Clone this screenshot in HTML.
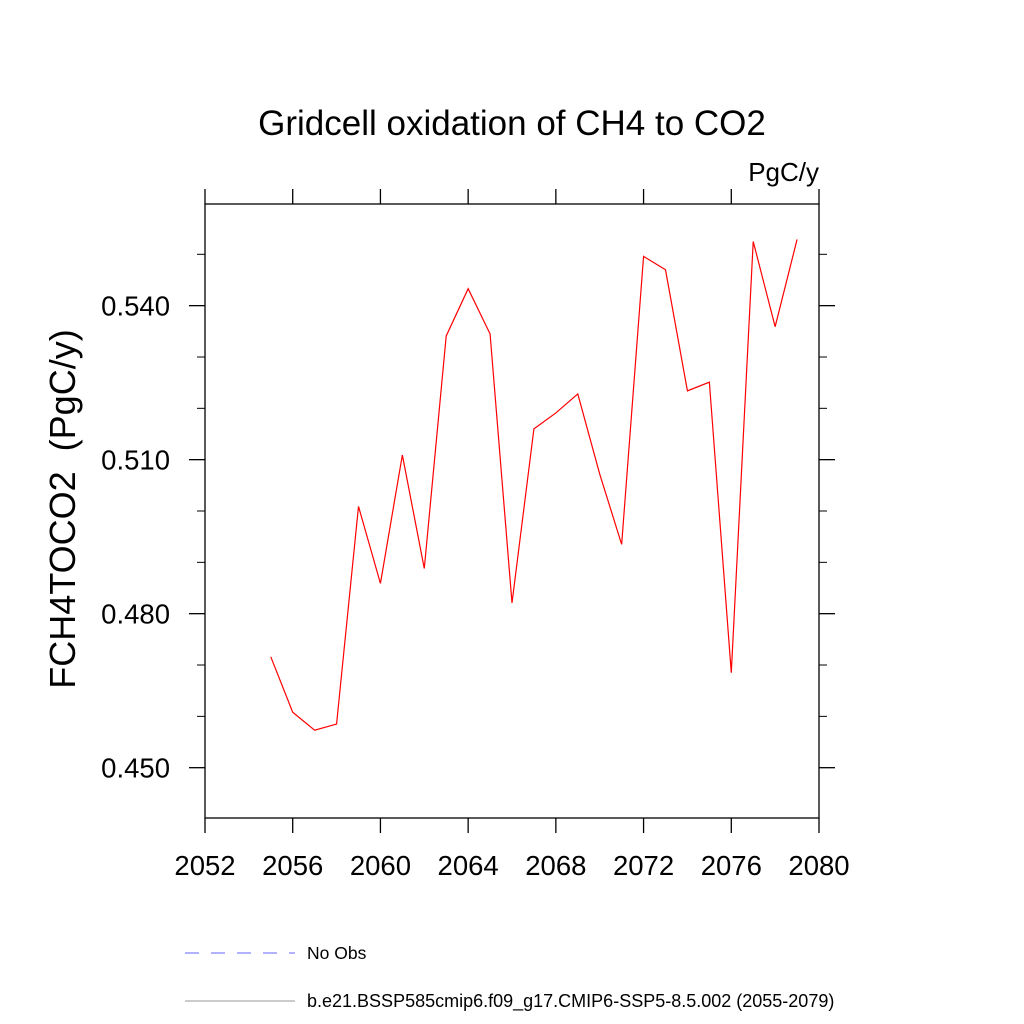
<!DOCTYPE html>
<html><head><meta charset="utf-8"><style>body{margin:0;background:#fff}svg{display:block;font-family:"Liberation Sans",sans-serif}</style></head>
<body>
<svg id="chart" width="1024" height="1024" xmlns="http://www.w3.org/2000/svg">
<text x="512" y="135" font-size="35" text-anchor="middle">Gridcell oxidation of CH4 to CO2</text>
<text x="819" y="181" font-size="26" text-anchor="end">PgC/y</text>
<text transform="translate(75,509) rotate(-90)" font-size="36" text-anchor="middle">FCH4TOCO2&#160;&#160;(PgC/y)</text>
<g id="axes"></g>
<polyline id="series" fill="none" stroke="#ff0000" stroke-width="1.2"/>
<line x1="185" y1="953" x2="295" y2="953" stroke="#6666ff" stroke-dasharray="14,12"/>
<text x="307" y="959" font-size="17.5">No Obs</text>
<line x1="185" y1="1001" x2="295" y2="1001" stroke="#999"/>
<text x="307" y="1007" font-size="18">b.e21.BSSP585cmip6.f09_g17.CMIP6-SSP5-8.5.002 (2055-2079)</text>
</svg>
<script>
const years=[2055,2056,2057,2058,2059,2060,2061,2062,2063,2064,2065,2066,2067,2068,2069,2070,2071,2072,2073,2074,2075,2076,2077,2078,2079];
const values=[0.4716,0.4608,0.4573,0.4585,0.5009,0.4859,0.5109,0.4888,0.5341,0.5433,0.5345,0.4821,0.5160,0.5191,0.5228,0.5072,0.4935,0.5496,0.5470,0.5234,0.5251,0.4685,0.5525,0.5359,0.5529];
const xTicks=[2052,2056,2060,2064,2068,2072,2076,2080];
const yTicks=[0.450,0.480,0.510,0.540];
const yTickLabels=["0.450","0.480","0.510","0.540"];
const L=205,R=819,T=204,B=818,X0=2052,X1=2080,Y0=0.4402,Y1=0.5598;
const sx=v=>L+(v-X0)/(X1-X0)*(R-L), sy=v=>B-(v-Y0)/(Y1-Y0)*(B-T);
const ns="http://www.w3.org/2000/svg", g=document.getElementById('axes');
function ln(x1,y1,x2,y2,name,w){const e=document.createElementNS(ns,'line');
e.setAttribute('x1',x1);e.setAttribute('y1',y1);e.setAttribute('x2',x2);e.setAttribute('y2',y2);
e.setAttribute('stroke','#000');e.setAttribute('stroke-width',w||1.3);


g.appendChild(e);}
function tx(x,y,s,anchor,name){const e=document.createElementNS(ns,'text');
e.setAttribute('x',x);e.setAttribute('y',y);e.setAttribute('font-size','27.5');e.setAttribute('text-anchor',anchor);e.textContent=s;


g.appendChild(e);}
const fr=document.createElementNS(ns,'rect');
fr.setAttribute('x',L);fr.setAttribute('y',T);fr.setAttribute('width',R-L);fr.setAttribute('height',B-T);
fr.setAttribute('fill','none');fr.setAttribute('stroke','#000');fr.setAttribute('stroke-width','1.3');


g.appendChild(fr);
xTicks.forEach(v=>{const x=sx(v);ln(x,B,x,B+15,'x-tick');ln(x,T,x,T-15,'x-tick-top');tx(x,B+57,String(v),'middle','x-tick-label');});
yTicks.forEach((v,i)=>{const y=sy(v);ln(L,y,L-16,y,'y-tick');ln(R,y,R+16,y,'y-tick-right');tx(L-35,y+10,yTickLabels[i],'end','y-tick-label');});
for(let v=0.44;v<=0.5601;v+=0.01){const y=sy(v);if(y<T-0.5||y>B+0.5)continue;
 if(yTicks.some(t=>Math.abs(t-v)<1e-6))continue;ln(L,y,L-8,y,'y-minor-tick',1);ln(R,y,R+8,y,'y-minor-tick-right',1);}
document.getElementById('series').setAttribute('points',years.map((y,i)=>sx(y)+','+sy(values[i])).join(' '));
</script>
</body></html>
